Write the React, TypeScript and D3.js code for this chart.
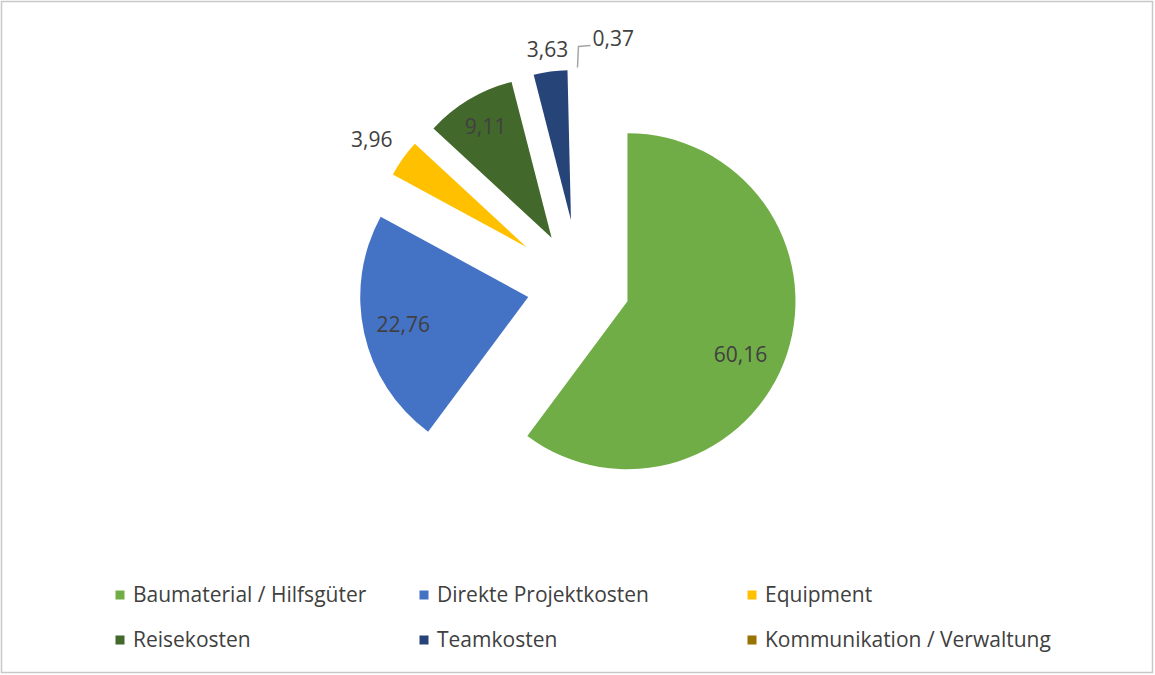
import React from "react";
import * as d3 from "d3";

const categories = [
  "Baumaterial / Hilfsgüter",
  "Direkte Projektkosten",
  "Equipment",
  "Reisekosten",
  "Teamkosten",
  "Kommunikation / Verwaltung",
];
const values = [60.16, 22.76, 3.96, 9.11, 3.63, 0.37];
const labels = ["60,16", "22,76", "3,96", "9,11", "3,63", "0,37"];

const colors = ["#70AD47", "#4472C4", "#FFC000", "#43682B", "#264478", "#997300"];
// per-slice styling (explosion offset, radius, label distance/angle tweak)
const explode = [50, 53, 66, 55.5, 66, 68];
const radius = [168, 168, 152, 161, 150, 150];
const labelDist = [125, 128, 188, 129, 172, 0];
const labelAngleTweak = [7, 0, -1, 0, 0, 0];

const W = 1155;
const H = 675;
const cx = 580;
const cy = 285.5;
const FONT = "'Open Sans', 'Liberation Sans', sans-serif";

export default function App() {
  const pie = d3.pie<number>().sort(null).value((d) => d);
  const arcs = pie(values);

  const legendX = [120, 424, 752];
  const legendY = [595, 640];

  return (
    <div style={{ position: "absolute", left: 0, top: 0 }}>
      <svg width={W} height={H} style={{ display: "block", fontFamily: FONT }}>
        <rect x={0} y={0} width={W} height={H} fill="#fff" />
        <rect x={1.5} y={1.5} width={W - 4} height={H - 4} fill="none" stroke="#c8c8c8" strokeWidth={1.5} />
        {arcs.map((a, i) => {
          const mid = (a.startAngle + a.endAngle) / 2;
          const ox = cx + Math.sin(mid) * explode[i];
          const oy = cy - Math.cos(mid) * explode[i];
          const arcGen = d3.arc<d3.PieArcDatum<number>>().innerRadius(0).outerRadius(radius[i]);
          const la = mid + (labelAngleTweak[i] * Math.PI) / 180;
          const lx = ox + Math.sin(la) * labelDist[i];
          const ly = oy - Math.cos(la) * labelDist[i];
          const isSmall = i === 5;
          const px = ox + Math.sin(mid) * radius[i];
          const py = oy - Math.cos(mid) * radius[i];
          return (
            <g key={categories[i]}>
              <path
                d={arcGen(a) || ""}
                transform={`translate(${ox},${oy})`}
                fill={colors[i]}
                fillOpacity={isSmall ? 0 : 1}
              />
              {isSmall ? (
                <g>
                  <polyline
                    points={`${px},${py} ${px + 1},${py - 21} ${px + 13},${py - 22}`}
                    fill="none"
                    stroke="#a6a6a6"
                    strokeWidth={1.5}
                  />
                  <text x={px + 15} y={py - 29} dy="0.35em" fontSize={21} fill="#404040">
                    {labels[i]}
                  </text>
                </g>
              ) : (
                <text x={lx} y={ly} dy="0.35em" textAnchor="middle" fontSize={21} fill="#404040">
                  {labels[i]}
                </text>
              )}
            </g>
          );
        })}
        {categories.map((c, i) => {
          const col = i % 3;
          const row = Math.floor(i / 3);
          return (
            <g key={c} transform={`translate(${legendX[col]},${legendY[row]})`}>
              <rect x={-4.5} y={-4.5} width={9} height={9} fill={colors[i]} />
              <text x={13} y={0} dy="0.35em" fontSize={21} fill="#404040">
                {c}
              </text>
            </g>
          );
        })}
      </svg>
    </div>
  );
}
